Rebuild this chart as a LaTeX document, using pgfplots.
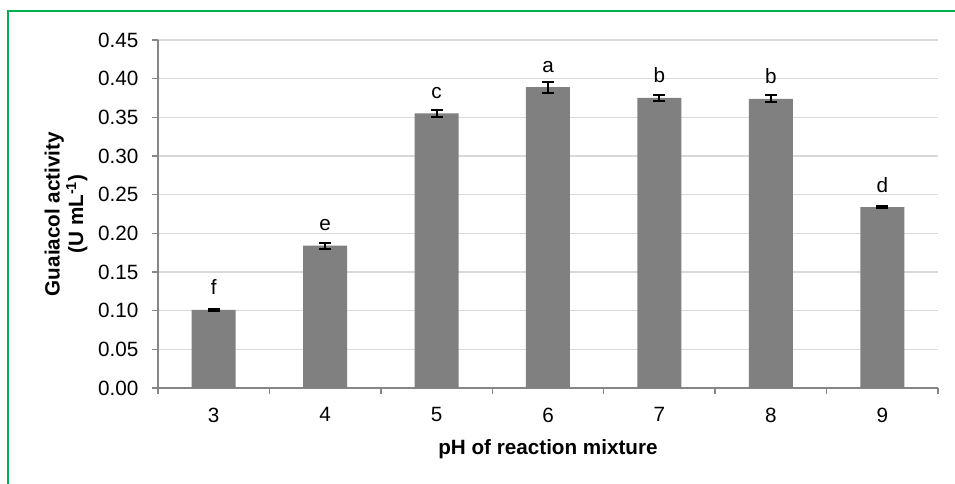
\documentclass[border=0pt]{standalone}
\usepackage{pgfplots}
\pgfplotsset{compat=1.18}
\usepackage{pgfplotstable}
\usepackage{fontspec}
\setmainfont{Liberation Sans}
\definecolor{framegreen}{HTML}{00B050}
\definecolor{barfill}{HTML}{808080}
\definecolor{axisgray}{HTML}{868686}
\definecolor{gridgray}{HTML}{D9D9D9}
\pgfplotstableread{
x y err lab
3 0.101 0.0015 f
4 0.184 0.004 e
5 0.355 0.004 c
6 0.389 0.007 a
7 0.375 0.0045 b
8 0.374 0.0045 b
9 0.234 0.001 d
}\data
\begin{document}
\begin{tikzpicture}
\useasboundingbox (0,0) rectangle (716.25bp,363bp);
\draw[framegreen, line width=1.5bp] (6bp,0) -- (6bp,354.4bp) -- (716.25bp,354.4bp);
\begin{axis}[
  at={(118.5bp,72bp)}, anchor=south west,
  scale only axis, width=585bp, height=261bp,
  xmin=2.5, xmax=9.5, ymin=0, ymax=0.45,
  axis x line*=bottom, axis y line*=left,
  axis line style={axisgray, line width=1.1bp, -},
  xtick={3,...,9}, xticklabels={3,4,5,6,7,8,9},
  minor xtick={2.5,3.5,...,9.5},
  major x tick style={draw=none},
  minor tick length=4.5bp, major tick length=4.5bp,
  tick align=outside,
  tick style={axisgray, line width=1.1bp},
  ytick={0,0.05,...,0.451},
  ymajorgrids, grid style={gridgray, line width=1.1bp},
  /pgf/number format/.cd, fixed, fixed zerofill, precision=2, assume math mode=true,
  /pgfplots/.cd,
  tick label style={font=\fontsize{15.5bp}{18bp}\selectfont, black},
  yticklabel style={inner sep=0pt, xshift=-10bp},
  xticklabel style={inner sep=0pt, yshift=-10bp},
  xlabel={\bfseries pH of reaction mixture},
  xlabel style={at={(axis description cs:0.5,0)}, anchor=base, yshift=-49.5bp, font=\fontsize{15.5bp}{18bp}\selectfont},
  ylabel={\bfseries Guaiacol activity\\\bfseries (U mL\textsuperscript{-1})},
  ylabel style={at={(axis description cs:0,0.5)}, rotate=0, anchor=center, yshift=69bp, align=center, font=\fontsize{15.5bp}{17.5bp}\selectfont},
  clip=false,
]
\addplot[ybar, bar width=33bp, fill=barfill, draw=none,
  point meta=explicit symbolic,
  nodes near coords,
  every node near coord/.style={anchor=base, yshift=11.25bp, black, font=\fontsize{15.5bp}{18bp}\selectfont},
  error bars/.cd, y dir=both, y explicit,
  error bar style={black, line width=1.5bp},
  error mark options={black, line width=1.5bp, mark size=4.5bp, rotate=90}]
  table[x=x, y=y, y error=err, meta=lab] {\data};
\end{axis}
\end{tikzpicture}
\end{document}
